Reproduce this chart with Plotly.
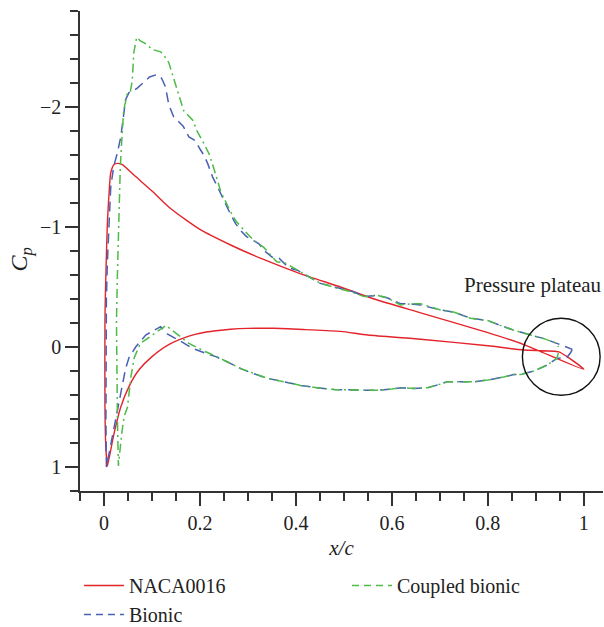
import plotly.graph_objects as go

# ---------------- data ----------------
# all surfaces listed from leading edge to trailing edge
naca_lower_x = [0.007, 0.012, 0.021, 0.035, 0.052, 0.073, 0.1, 0.135, 0.177, 0.2, 0.233, 0.264,
                0.3, 0.354, 0.42, 0.493, 0.55, 0.66, 0.8, 0.875, 0.948, 0.965, 1.0]
naca_lower_cp = [0.99, 0.9, 0.72, 0.5, 0.33, 0.19, 0.08, -0.02, -0.09, -0.115, -0.135, -0.148,
                 -0.155, -0.156, -0.145, -0.13, -0.10, -0.065, -0.01, 0.025, 0.04, 0.08, 0.186]
naca_upper_x = [0.007, 0.004, 0.002, 0.002, 0.003, 0.004, 0.007, 0.011, 0.014, 0.021, 0.028, 0.038,
                0.066, 0.1, 0.14, 0.2, 0.264, 0.326, 0.41, 0.493, 0.563, 0.66, 0.8, 0.875, 1.0]
naca_upper_cp = [0.99, 0.85, 0.5, -0.22, -0.45, -0.61, -1.03, -1.31, -1.45, -1.52, -1.53, -1.52,
                 -1.42, -1.30, -1.15, -0.98, -0.85, -0.74, -0.61, -0.5, -0.40, -0.285, -0.12,
                 -0.02, 0.186]

bionic_lower_x = [0.005, 0.01, 0.014, 0.021, 0.028, 0.035, 0.045, 0.052, 0.066, 0.087, 0.1, 0.118,
                  0.132, 0.15, 0.163, 0.184, 0.21, 0.233, 0.26, 0.285, 0.31, 0.34, 0.375, 0.41,
                  0.444, 0.48, 0.514, 0.545, 0.57, 0.6, 0.618, 0.645, 0.674, 0.7, 0.715, 0.745,
                  0.771, 0.8, 0.833, 0.854, 0.868, 0.896, 0.924, 0.944, 0.965, 0.972, 0.976]
bionic_lower_cp = [1.0, 0.9, 0.83, 0.68, 0.53, 0.38, 0.18, 0.09, 0.0, -0.1, -0.13, -0.17,
                   -0.11, -0.07, -0.04, 0.01, 0.05, 0.08, 0.13, 0.18, 0.22, 0.26, 0.29, 0.32,
                   0.34, 0.355, 0.36, 0.36, 0.36, 0.35, 0.34, 0.345, 0.34, 0.31, 0.29, 0.29,
                   0.29, 0.275, 0.25, 0.23, 0.23, 0.2, 0.15, 0.095, 0.086, 0.05, 0.02]
bionic_upper_x = [0.005, 0.004, 0.004, 0.005, 0.007, 0.011, 0.014, 0.02, 0.028, 0.035, 0.04, 0.045,
                  0.052, 0.06, 0.07, 0.083, 0.095, 0.11, 0.12, 0.128, 0.135, 0.145, 0.155, 0.165,
                  0.177, 0.19, 0.2, 0.208, 0.216, 0.226, 0.236, 0.25, 0.262, 0.274, 0.285, 0.297,
                  0.309, 0.323, 0.335, 0.35, 0.365, 0.385, 0.403, 0.42, 0.451, 0.48, 0.5, 0.52,
                  0.542, 0.57, 0.59, 0.618, 0.639, 0.66, 0.7, 0.73, 0.764, 0.8, 0.826, 0.854,
                  0.889, 0.917, 0.944, 0.965, 0.976]
bionic_upper_cp = [1.0, 0.6, -0.1, -0.4, -0.7, -1.08, -1.33, -1.5, -1.62, -1.75, -1.9, -2.06,
                   -2.12, -2.13, -2.16, -2.21, -2.25, -2.27, -2.24, -2.17, -2.02, -1.92, -1.88, -1.84,
                   -1.75, -1.72, -1.65, -1.6, -1.53, -1.42, -1.34, -1.22, -1.12, -1.03, -0.97, -0.92,
                   -0.89, -0.86, -0.8, -0.75, -0.74, -0.66, -0.64, -0.6, -0.53, -0.5, -0.48, -0.46,
                   -0.42, -0.43, -0.41, -0.36, -0.36, -0.35, -0.31, -0.29, -0.24, -0.22, -0.18, -0.14,
                   -0.1, -0.07, -0.03, 0.0, 0.02]

coupled_lower_x = [0.03, 0.037, 0.042, 0.049, 0.056, 0.063, 0.076, 0.1, 0.115, 0.129, 0.149, 0.177,
                   0.212, 0.24, 0.285, 0.34, 0.41, 0.444, 0.48, 0.514, 0.545, 0.57, 0.6, 0.618,
                   0.645, 0.674, 0.7, 0.715, 0.745, 0.771, 0.8, 0.833, 0.854, 0.868, 0.896, 0.924,
                   0.944, 0.947]
coupled_lower_cp = [0.99, 0.72, 0.58, 0.5, 0.25, 0.09, -0.03, -0.1, -0.14, -0.18, -0.12, -0.03,
                    0.04, 0.09, 0.18, 0.26, 0.32, 0.34, 0.355, 0.36, 0.36, 0.36, 0.35, 0.34,
                    0.345, 0.34, 0.31, 0.29, 0.29, 0.29, 0.275, 0.25, 0.23, 0.23, 0.2, 0.15,
                    0.095, 0.05]
coupled_upper_x = [0.03, 0.028, 0.026, 0.026, 0.028, 0.031, 0.034, 0.037, 0.041, 0.049, 0.055,
                   0.059, 0.062, 0.068, 0.076, 0.09, 0.1, 0.118, 0.125, 0.135, 0.15, 0.166, 0.185,
                   0.195, 0.205, 0.219, 0.228, 0.243, 0.262, 0.275, 0.295, 0.312, 0.333, 0.36,
                   0.378, 0.417, 0.451, 0.486, 0.514, 0.542, 0.57, 0.59, 0.618, 0.639, 0.66, 0.7,
                   0.73, 0.764, 0.8, 0.826, 0.854, 0.889, 0.917, 0.944, 0.947]
coupled_upper_cp = [0.99, 0.6, 0.1, -0.22, -0.61, -1.17, -1.5, -1.72, -1.97, -2.12, -2.13,
                    -2.22, -2.45, -2.58, -2.55, -2.52, -2.48, -2.46, -2.43, -2.37, -2.17, -1.97, -1.89,
                    -1.79, -1.72, -1.61, -1.5, -1.3, -1.14, -1.05, -0.96, -0.89, -0.83, -0.71,
                    -0.7, -0.61, -0.53, -0.49, -0.46, -0.42, -0.43, -0.41, -0.35, -0.36, -0.36, -0.31,
                    -0.29, -0.24, -0.22, -0.18, -0.14, -0.1, -0.07, -0.03, 0.0]

series_names = ["NACA0016", "Bionic", "Coupled bionic"]
x_ticks = [0, 0.2, 0.4, 0.6, 0.8, 1]
annotation_text = "Pressure plateau"

# ---------------- styling ----------------
RED = "#e3242b"
BLUE = "#4a5fb4"
GREEN = "#4dbb47"
FONT = "Liberation Serif"
AXC = "#333333"
TXT = "#222222"


def loop(lx, lcp, ux, ucp):
    # trailing edge -> lower surface -> leading edge -> upper surface -> trailing edge
    return list(reversed(lx)) + ux, list(reversed(lcp)) + ucp


fig = go.Figure()

nx, ncp = loop(naca_lower_x, naca_lower_cp, naca_upper_x, naca_upper_cp)
bx, bcp = loop(bionic_lower_x, bionic_lower_cp, bionic_upper_x, bionic_upper_cp)
cx, ccp = loop(coupled_lower_x, coupled_lower_cp, coupled_upper_x, coupled_upper_cp)

fig.add_trace(go.Scatter(x=nx, y=ncp, mode="lines", showlegend=False,
                         line=dict(color=RED, width=1.4, shape="spline", smoothing=0.6)))
fig.add_trace(go.Scatter(x=bx, y=bcp, mode="lines", showlegend=False,
                         line=dict(color=BLUE, width=1.5, dash="10px,6px")))
fig.add_trace(go.Scatter(x=cx, y=ccp, mode="lines", showlegend=False,
                         line=dict(color=GREEN, width=1.5, dash="9px,4px,2px,4px")))

# legend entries: column 1 (NACA0016, Bionic), column 2 (Coupled bionic)
fig.add_trace(go.Scatter(x=[None], y=[None], mode="lines", name=series_names[0],
                         legend="legend", line=dict(color=RED, width=1.5)))
fig.add_trace(go.Scatter(x=[None], y=[None], mode="lines", name=series_names[1],
                         legend="legend", line=dict(color=BLUE, width=1.5, dash="7px,5px")))
fig.add_trace(go.Scatter(x=[None], y=[None], mode="lines", name=series_names[2],
                         legend="legend2", line=dict(color=GREEN, width=1.5, dash="7px,5px")))

# circle marking the pressure plateau
fig.add_shape(type="circle", xref="x", yref="y", x0=0.872, x1=1.034, y0=-0.24, y1=0.402,
              line=dict(color="#111111", width=1.4))
fig.add_annotation(x=0.894, y=-0.52, xref="x", yref="y", text=annotation_text,
                   showarrow=False, font=dict(family=FONT, size=21, color=TXT))

# y-axis title placed as rotated text
fig.add_annotation(x=-0.113, y=0.482, xref="paper", yref="paper",
                   text="<i>C</i><sub><i>p</i></sub>", textangle=-90, showarrow=False,
                   xanchor="center", yanchor="middle",
                   font=dict(family=FONT, size=24, color=TXT))

axis_common = dict(showline=True, linecolor=AXC, linewidth=1.5, ticks="outside",
                   ticklen=13, tickwidth=1.5, tickcolor=AXC, showgrid=False, zeroline=False,
                   tickfont=dict(family=FONT, size=20, color=TXT))

fig.update_xaxes(range=[-0.05, 1.04], tickvals=x_ticks,
                 ticktext=[("%g" % v) for v in x_ticks],
                 minor=dict(dtick=0.05, tick0=0, ticks="outside", ticklen=8, tickwidth=1.5,
                            tickcolor=AXC, showgrid=False),
                 title=dict(text="<i>x/c</i>", font=dict(family=FONT, size=21, color=TXT),
                            standoff=8),
                 **axis_common)
fig.update_yaxes(range=[1.2, -2.8], dtick=1, tick0=0,
                 minor=dict(dtick=0.2, tick0=0, ticks="outside", ticklen=8, tickwidth=1.5,
                            tickcolor=AXC, showgrid=False),
                 **axis_common)

legend_common = dict(orientation="v", xanchor="left", yanchor="top", itemwidth=40,
                     font=dict(family=FONT, size=20, color=TXT), bgcolor="rgba(0,0,0,0)",
                     tracegroupgap=0)

fig.update_layout(
    width=604, height=627,
    margin=dict(l=80, r=1, t=11, b=136, autoexpand=False),
    plot_bgcolor="white", paper_bgcolor="white",
    font=dict(family=FONT, size=20, color=TXT),
    legend=dict(x=-0.002, y=-0.156, **legend_common),
    legend2=dict(x=0.5105, y=-0.156, **legend_common),
)

fig.write_html("out.html")
